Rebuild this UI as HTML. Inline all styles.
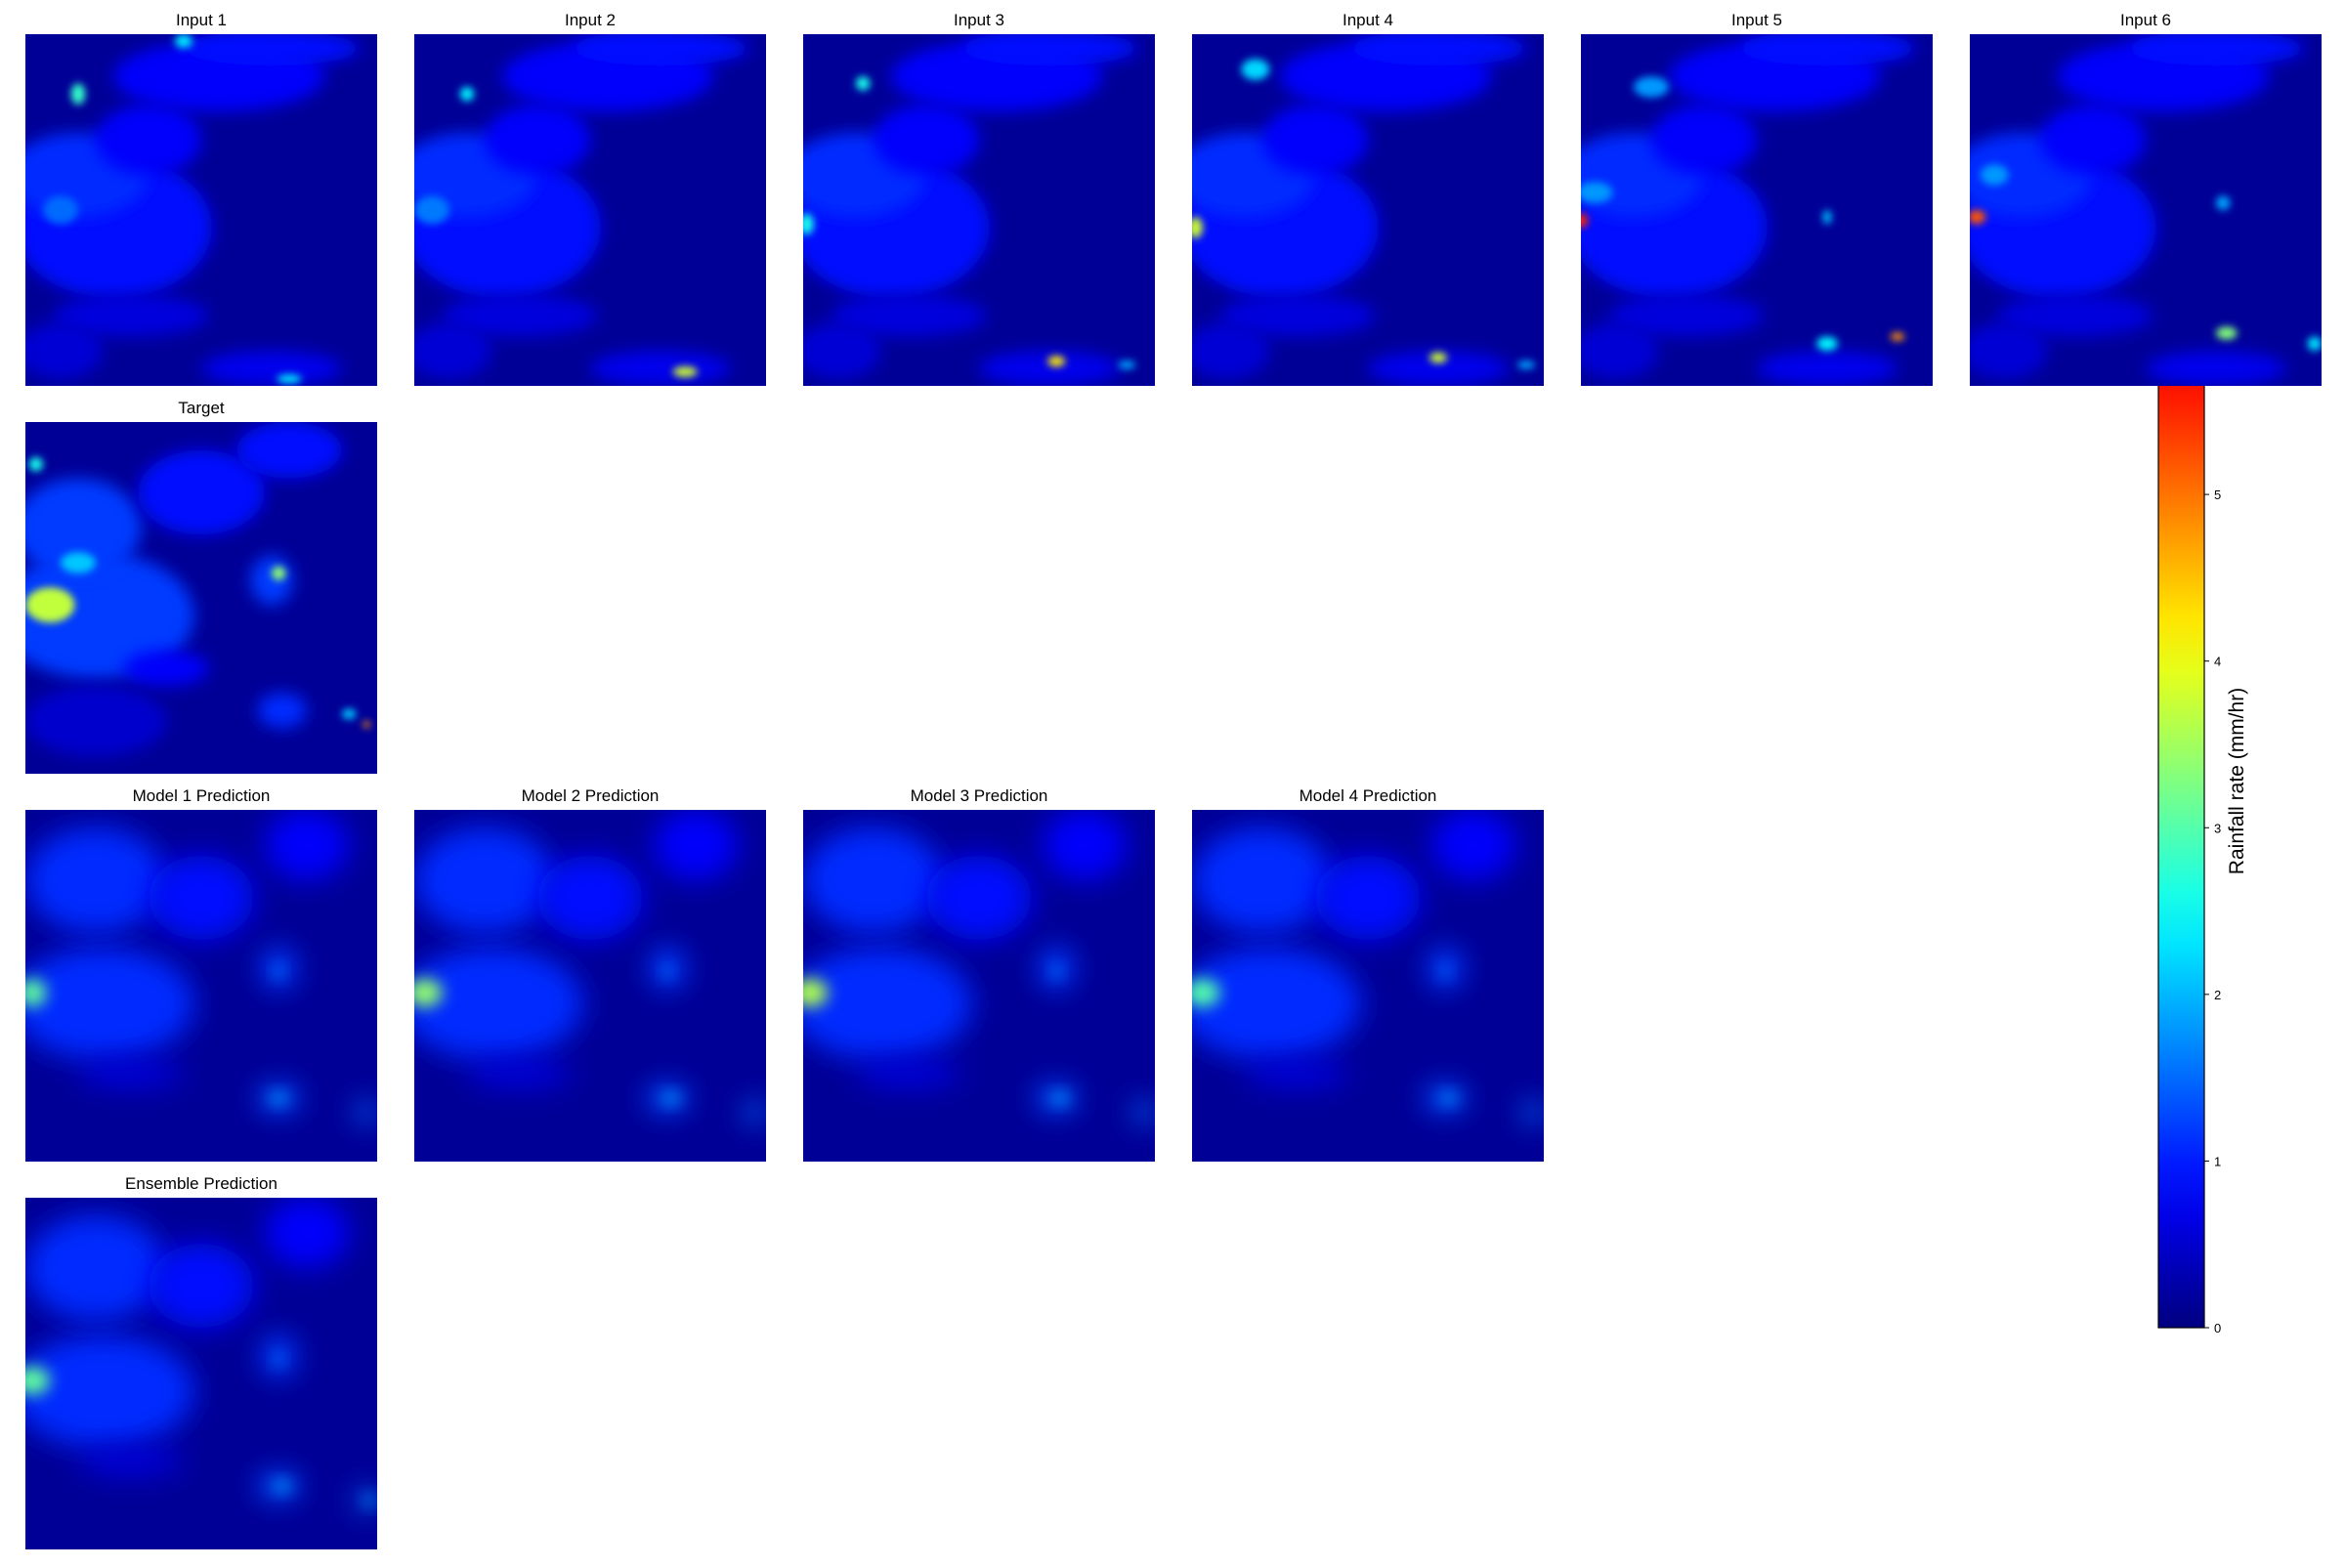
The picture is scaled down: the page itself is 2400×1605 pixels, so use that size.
<!DOCTYPE html>
<html><head><meta charset="utf-8"><style>
html,body{margin:0;padding:0;background:#fff;}
body{width:2400px;height:1600px;position:relative;overflow:hidden;font-family:"Liberation Sans","DejaVu Sans",sans-serif;}
</style></head><body>
<svg id="fig" width="2400" height="1600" viewBox="0 0 2400 1600" xmlns="http://www.w3.org/2000/svg">
<defs>
<filter id="blurH" x="-150%" y="-150%" width="400%" height="400%"><feGaussianBlur stdDeviation="4"/></filter>
<filter id="blurS" x="-100%" y="-100%" width="300%" height="300%"><feGaussianBlur stdDeviation="8"/></filter>
<filter id="blurL" x="-150%" y="-150%" width="400%" height="400%"><feGaussianBlur stdDeviation="14"/></filter>
<linearGradient id="jetgrad" x1="0" y1="1" x2="0" y2="0"></linearGradient>
</defs>
<g id="cbar"></g>
<g id="panels"></g>
</svg>
<script>
const vmax = 6.56;
const panelTitles = ["Input 1","Input 2","Input 3","Input 4","Input 5","Input 6","Target","Model 1 Prediction","Model 2 Prediction","Model 3 Prediction","Model 4 Prediction","Ensemble Prediction"];
const panelCols = [0,1,2,3,4,5,0,0,1,2,3,0];
const panelRows = [0,0,0,0,0,0,1,2,2,2,2,3];
const cbTicks = [0,1,2,3,4,5,6];
// blob fields: [cx, cy, rx, ry, value] in panel fraction units
const inputField = [[0.25,0.55,0.28,0.2,0.9],[0.15,0.4,0.2,0.12,1.1],[0.55,0.12,0.3,0.1,0.8],[0.7,0.04,0.25,0.05,0.9],[0.35,0.3,0.15,0.1,0.8],[0.3,0.8,0.22,0.06,0.6],[0.7,0.95,0.2,0.05,0.7],[0.1,0.9,0.12,0.08,0.55]];
const input1Hot = [[0.45,0.02,0.025,0.02,2.3],[0.15,0.17,0.02,0.03,2.8],[0.75,0.98,0.035,0.012,2.4],[0.1,0.5,0.05,0.04,1.5]];
const input2Hot = [[0.77,0.96,0.035,0.015,3.8],[0.15,0.17,0.02,0.02,2.4],[0.05,0.5,0.05,0.04,1.6]];
const input3Hot = [[0.72,0.93,0.025,0.015,4.2],[0.01,0.54,0.02,0.03,2.6],[0.17,0.14,0.02,0.02,2.6],[0.92,0.94,0.025,0.012,1.9]];
const input4Hot = [[0.7,0.92,0.025,0.015,3.8],[0.01,0.55,0.02,0.03,3.8],[0.18,0.1,0.04,0.03,2.2],[0.95,0.94,0.025,0.012,1.9]];
const input5Hot = [[0.0,0.53,0.02,0.02,5.5],[0.9,0.86,0.02,0.012,4.8],[0.7,0.88,0.03,0.02,2.4],[0.7,0.52,0.012,0.02,2.1],[0.2,0.15,0.05,0.03,1.8],[0.04,0.45,0.05,0.03,1.8]];
const input6Hot = [[0.02,0.52,0.025,0.02,5.2],[0.73,0.85,0.03,0.018,3.3],[0.72,0.48,0.02,0.02,1.9],[0.98,0.88,0.02,0.02,2.3],[0.07,0.4,0.04,0.03,1.8]];
const targetField = [[0.2,0.55,0.28,0.18,1.2],[0.15,0.3,0.18,0.14,1.2],[0.5,0.2,0.18,0.12,0.9],[0.75,0.08,0.15,0.08,0.9],[0.4,0.7,0.12,0.05,0.8],[0.7,0.45,0.06,0.07,1.2],[0.73,0.82,0.07,0.05,1.1],[0.2,0.85,0.2,0.1,0.5]];
const targetHot = [[0.07,0.52,0.07,0.05,3.7],[0.03,0.12,0.02,0.02,2.6],[0.72,0.43,0.02,0.02,3.4],[0.97,0.86,0.01,0.01,4.8],[0.15,0.4,0.05,0.03,2.1],[0.92,0.83,0.02,0.015,2.1]];
const modelField = [[0.22,0.55,0.26,0.16,1.1],[0.2,0.2,0.2,0.15,1.1],[0.5,0.25,0.15,0.12,0.9],[0.8,0.1,0.12,0.1,0.8],[0.72,0.45,0.05,0.06,1.2],[0.3,0.75,0.15,0.04,0.6],[0.72,0.82,0.06,0.04,1.3],[0.97,0.86,0.03,0.03,1.5]];
const model1Hot = [[0.02,0.52,0.04,0.04,3.1],[0.72,0.46,0.012,0.015,1.9],[0.72,0.82,0.025,0.015,1.9]];
const model2Hot = [[0.03,0.52,0.05,0.04,3.4],[0.72,0.46,0.012,0.015,1.8],[0.73,0.82,0.025,0.015,1.9]];
const model3Hot = [[0.02,0.52,0.05,0.04,3.6],[0.72,0.46,0.012,0.015,1.9],[0.73,0.82,0.025,0.015,1.9]];
const model4Hot = [[0.03,0.52,0.05,0.04,3.0],[0.72,0.46,0.012,0.015,1.7],[0.73,0.82,0.025,0.015,1.8]];
const ensHot = [[0.02,0.52,0.05,0.04,3.1],[0.72,0.46,0.012,0.015,1.8],[0.73,0.82,0.025,0.015,1.9],[0.98,0.86,0.015,0.015,1.9]];
const panelFields = [inputField,inputField,inputField,inputField,inputField,inputField,targetField,modelField,modelField,modelField,modelField,modelField];
const panelHots = [input1Hot,input2Hot,input3Hot,input4Hot,input5Hot,input6Hot,targetHot,model1Hot,model2Hot,model3Hot,model4Hot,ensHot];

const NS="http://www.w3.org/2000/svg";
function jet(t){t=Math.max(0,Math.min(1,t));
  const f=(x)=>Math.max(0,Math.min(1,x));
  const r=f(Math.min(4*t-1.5,-4*t+4.5)), g=f(Math.min(4*t-0.5,-4*t+3.5)), b=f(Math.min(4*t+0.5,-4*t+2.5));
  return `rgb(${Math.round(r*255)},${Math.round(g*255)},${Math.round(b*255)})`;}
function col(v){return jet(v/vmax);}
const P=360, colX=c=>26+c*398, rowY=r=>35+r*397;
const cbX=2209,cbW=47,cbTop=240,cbBot=1359;
const cbY=v=>cbBot-(v/vmax)*(cbBot-cbTop);
const grad=document.getElementById('jetgrad');
for(let i=0;i<=20;i++){const s=document.createElementNS(NS,'stop');s.setAttribute('offset',i/20);s.setAttribute('stop-color',jet(i/20));grad.appendChild(s);}
const cb=document.getElementById('cbar');
const cbr=document.createElementNS(NS,'rect');


cbr.setAttribute('x',cbX);cbr.setAttribute('y',cbTop);cbr.setAttribute('width',cbW);cbr.setAttribute('height',cbBot-cbTop);cbr.setAttribute('fill','url(#jetgrad)');cbr.setAttribute('stroke','#000');cbr.setAttribute('stroke-width','1.2');cb.appendChild(cbr);
cbTicks.forEach(v=>{const y=cbY(v);
  const l=document.createElementNS(NS,'line');
  
  
  l.setAttribute('x1',cbX+cbW);l.setAttribute('x2',cbX+cbW+5);l.setAttribute('y1',y);l.setAttribute('y2',y);l.setAttribute('stroke','#000');cb.appendChild(l);
  const t=document.createElementNS(NS,'text');
  
  
  t.setAttribute('x',cbX+cbW+10);t.setAttribute('y',y+5);t.setAttribute('font-size','13');t.textContent=v;cb.appendChild(t);});
const lab=document.createElementNS(NS,'text');


lab.setAttribute('transform',`translate(2296,${(cbTop+cbBot)/2}) rotate(-90)`);lab.setAttribute('text-anchor','middle');lab.setAttribute('font-size','21');lab.textContent='Rainfall rate (mm/hr)';cb.appendChild(lab);
const pg=document.getElementById('panels');
panelTitles.forEach((title,i)=>{
  const x0=colX(panelCols[i]),y0=rowY(panelRows[i]);
  const g=document.createElementNS(NS,'g');
  
  
  const cp=document.createElementNS(NS,'clipPath');cp.setAttribute('id','cp'+i);
  const cr=document.createElementNS(NS,'rect');cr.setAttribute('x',x0);cr.setAttribute('y',y0);cr.setAttribute('width',P);cr.setAttribute('height',P);cp.appendChild(cr);g.appendChild(cp);
  const inner=document.createElementNS(NS,'g');inner.setAttribute('clip-path',`url(#cp${i})`);
  const bg=document.createElementNS(NS,'rect');
  
  
  bg.setAttribute('x',x0);bg.setAttribute('y',y0);bg.setAttribute('width',P);bg.setAttribute('height',P);bg.setAttribute('fill',col(0.15));inner.appendChild(bg);
  const blur=i>=7?'url(#blurL)':'url(#blurS)';
  [panelFields[i],panelHots[i]].forEach((arr,k)=>{arr.forEach(b=>{
    const e=document.createElementNS(NS,'ellipse');
    
    
    e.setAttribute('cx',x0+b[0]*P);e.setAttribute('cy',y0+b[1]*P);e.setAttribute('rx',b[2]*P);e.setAttribute('ry',b[3]*P);
    e.setAttribute('fill',col(b[4]));e.setAttribute('filter',k?(i>=7?'url(#blurS)':'url(#blurH)'):blur);inner.appendChild(e);});});
  g.appendChild(inner);
  const t=document.createElementNS(NS,'text');
  
  
  t.setAttribute('x',x0+P/2);t.setAttribute('y',y0-9);t.setAttribute('text-anchor','middle');t.setAttribute('font-size','17');t.textContent=title;g.appendChild(t);
  pg.appendChild(g);
});
</script>
</body></html>
